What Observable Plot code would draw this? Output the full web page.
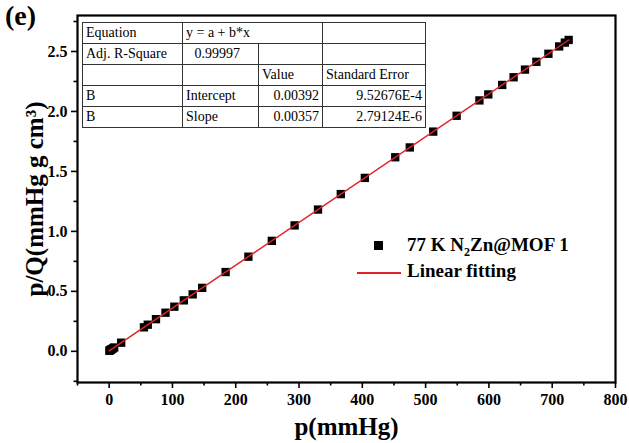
<!DOCTYPE html>
<html><head><meta charset="utf-8">
<script src="https://cdn.jsdelivr.net/npm/d3@7"></script>
<script src="https://cdn.jsdelivr.net/npm/@observablehq/plot@0.6"></script>
<style>
body{margin:0;background:#fff;}
#wrap{position:relative;width:629px;height:443px;font-family:"Liberation Serif","Times New Roman",serif;color:#000;overflow:hidden;}
#wrap svg, #wrap svg text{font-family:"Liberation Serif","Times New Roman",serif !important;}
#panel{position:absolute;left:5px;top:0px;font-weight:bold;font-size:28px;line-height:32px;font-family:"Liberation Serif",serif;}
#tbl{position:absolute;left:82px;top:22px;border-collapse:collapse;font-size:14px;background:#fff;table-layout:fixed;font-family:"Liberation Serif","Times New Roman",serif;}
#tbl td{border:1px solid #333;height:20px;padding:0 3px;line-height:18px;white-space:nowrap;font-family:"Liberation Serif","Times New Roman",serif;}
#tbl td.r{text-align:right;}
.leg{position:absolute;font-weight:bold;font-size:19px;line-height:22px;white-space:nowrap;font-family:"Liberation Serif",serif;}
.leg sub{font-size:12px;line-height:0;}
g[aria-label="y-axis label"], g[aria-label="y-axis label"] text,
g[aria-label="x-axis label"], g[aria-label="x-axis label"] text{font-size:25px !important;font-weight:bold;}
g[aria-label="x-axis tick label"] text, g[aria-label="y-axis tick label"] text{font-size:16px !important;font-weight:bold;}
</style></head><body><div id="wrap"></div>
<script>
// measured data: pressure p (mmHg) and p/Q
const pressure = [0.4, 1.2, 2.5, 4, 6, 8, 19, 55, 61, 74, 89, 103, 118, 132, 147, 184, 220, 257, 293, 330, 366, 404, 452, 475, 512, 549, 585, 599, 621, 639, 657, 675, 694, 711, 720, 726];
const pOverQ   = [0.005, 0.008, 0.013, 0.018, 0.025, 0.032, 0.072, 0.200, 0.222, 0.268, 0.322, 0.372, 0.425, 0.475, 0.529, 0.661, 0.789, 0.921, 1.050, 1.182, 1.311, 1.446, 1.618, 1.700, 1.832, 1.964, 2.092, 2.142, 2.221, 2.285, 2.349, 2.414, 2.481, 2.542, 2.574, 2.596];
// linear fit parameters
const fitIntercept = 0.00392;
const fitSlope = 0.00357;
// ticks
const xTicks = [0, 100, 200, 300, 400, 500, 600, 700, 800];
const xMinorTicks = [-50, 50, 150, 250, 350, 450, 550, 650, 750];
const yTicks = [0, 0.5, 1.0, 1.5, 2.0, 2.5];
const yMinorTicks = [-0.25, 0.25, 0.75, 1.25, 1.75, 2.25, 2.75];
// fit table text
const tableRow1 = ["Equation", "y = a + b*x", ""];
const tableRow2 = ["Adj. R-Square", "0.99997", "", ""];
const tableRow3 = ["", "", "Value", "Standard Error"];
const tableRow4 = ["B", "Intercept", "0.00392", "9.52676E-4"];
const tableRow5 = ["B", "Slope", "0.00357", "2.79124E-6"];
const legendLabels = ["77 K N<sub>2</sub>Zn@MOF 1", "Linear fitting"];
const xLabel = "p(mmHg)";
const yLabel = "p/Q(mmHg g cm\u00B3)";

const points = pressure.map((p, i) => ({p, q: pOverQ[i]}));
const fitLine = [0, d3.max(pressure)].map(p => ({p, q: fitIntercept + fitSlope * p}));

const chart = Plot.plot({
  width: 629, height: 443,
  marginLeft: 77, marginRight: 14, marginTop: 15, marginBottom: 61,
  x: {domain: [-50, 800]},
  y: {domain: [-0.26, 2.8]},
  style: {fontFamily: "'Liberation Serif','Times New Roman',serif", fontWeight: "bold", color: "black", background: "white", overflow: "visible"},
  marks: [
    Plot.axisX({ticks: xTicks, tickSize: 6, tickPadding: 5, tickFormat: d => String(d), fontSize: 16, fontWeight: "bold", strokeWidth: 1.6,
      label: xLabel, labelAnchor: "center", labelArrow: "none", labelOffset: 52}),
    Plot.axisX({ticks: xMinorTicks, tickSize: 3.5, tickFormat: () => "", strokeWidth: 1.6, label: null}),
    Plot.axisY({ticks: yTicks, tickSize: 6, tickPadding: 4, tickFormat: d3.format(".1f"), fontSize: 16, fontWeight: "bold", strokeWidth: 1.6,
      label: yLabel, labelAnchor: "center", labelArrow: "none", labelOffset: 52}),
    Plot.axisY({ticks: yMinorTicks, tickSize: 3.5, tickFormat: () => "", strokeWidth: 1.6, label: null}),
    Plot.dot(points, {x: "p", y: "q", symbol: "square", r: 4.7, fill: "black", stroke: "none"}),
    Plot.line(fitLine, {x: "p", y: "q", stroke: "#e02424", strokeWidth: 1.5}),
    Plot.frame({stroke: "black", strokeWidth: 2.2})
  ]
});

const wrap = document.getElementById("wrap");
wrap.appendChild(chart);

const panel = document.createElement("div");
panel.id = "panel"; panel.textContent = "(e)";
wrap.appendChild(panel);

// fit table
const colW = [100, 76, 64, 103];
let html = '<table id="tbl"><colgroup>' + colW.map(w => `<col style="width:${w}px">`).join("") + '</colgroup>';
html += `<tr><td>${tableRow1[0]}</td><td colspan="2">${tableRow1[1]}</td><td>${tableRow1[2]}</td></tr>`;
html += `<tr><td>${tableRow2[0]}</td><td class="r" style="padding-right:18px">${tableRow2[1]}</td><td>${tableRow2[2]}</td><td>${tableRow2[3]}</td></tr>`;
html += `<tr>${tableRow3.map(t => `<td>${t}</td>`).join("")}</tr>`;
html += `<tr><td>${tableRow4[0]}</td><td>${tableRow4[1]}</td><td class="r">${tableRow4[2]}</td><td class="r">${tableRow4[3]}</td></tr>`;
html += `<tr><td>${tableRow5[0]}</td><td>${tableRow5[1]}</td><td class="r">${tableRow5[2]}</td><td class="r">${tableRow5[3]}</td></tr>`;
html += '</table>';
wrap.insertAdjacentHTML("beforeend", html);

// legend
wrap.insertAdjacentHTML("beforeend",
  `<div style="position:absolute;left:374px;top:241px;width:9px;height:9px;background:#000"></div>
   <div class="leg" style="left:407px;top:234px;">${legendLabels[0]}</div>
   <div style="position:absolute;left:357px;top:272px;width:44px;height:1.5px;background:#e02424"></div>
   <div class="leg" style="left:407px;top:260px;">${legendLabels[1]}</div>`);
</script>
</body></html>
